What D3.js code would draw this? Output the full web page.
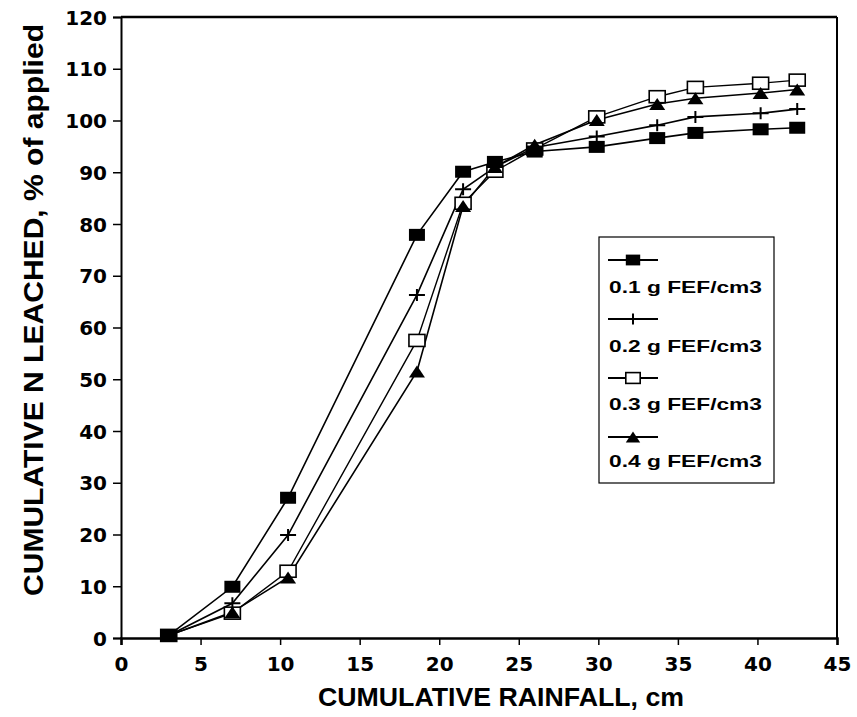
<!DOCTYPE html>
<html><head><meta charset="utf-8">
<script src="https://cdn.jsdelivr.net/npm/d3@7"></script>
<style>body{margin:0;background:#fff}svg{display:block}</style>
</head><body>
<svg id="c" width="857" height="717"></svg>
<script>
const rainfall = [3.0, 7.0, 10.5, 18.6, 21.5, 23.5, 26.0, 29.9, 33.7, 36.1, 40.2, 42.5];
const fef01 = [0.5, 9.9, 27.1, 77.9, 90.1, 92.0, 94.0, 94.9, 96.6, 97.6, 98.3, 98.6];
const fef02 = [0.5, 6.7, 19.9, 66.3, 86.7, 91.0, 94.8, 96.9, 99.1, 100.7, 101.4, 102.2];
const fef03 = [0.5, 4.8, 12.9, 57.5, 84.0, 90.2, 94.5, 100.7, 104.6, 106.4, 107.2, 107.8];
const fef04 = [0.5, 5.0, 11.7, 51.5, 83.5, 91.0, 95.3, 100.1, 103.2, 104.3, 105.3, 106.0];
const seriesNames = ["0.1 g FEF/cm3", "0.2 g FEF/cm3", "0.3 g FEF/cm3", "0.4 g FEF/cm3"];
const xTicks = [0, 5, 10, 15, 20, 25, 30, 35, 40, 45];
const yTicks = [0, 10, 20, 30, 40, 50, 60, 70, 80, 90, 100, 110, 120];
const xTitle = "CUMULATIVE RAINFALL, cm";
const yTitle = "CUMULATIVE N LEACHED, % of applied";

const svg = d3.select("#c");
const L = 121, R = 837, T = 17, B = 638;
const x = d3.scaleLinear().domain([0, 45]).range([L, R]);
const y = d3.scaleLinear().domain([0, 120]).range([B, T]);
const tickFont = "'DejaVu Sans', sans-serif";
const titleFont = "'Liberation Sans', Arial, sans-serif";

// axes
const xAxis = svg.append("g").attr("transform", `translate(0,${B})`)
  .call(d3.axisBottom(x).tickValues(xTicks).tickSize(7).tickPadding(6).tickFormat(d3.format("d")));
xAxis.select(".domain").attr("stroke-width", 2.5);
xAxis.selectAll(".tick line").attr("stroke-width", 1.5);
xAxis.selectAll("text").attr("font-family", tickFont).attr("font-weight", "bold")
  .attr("font-size", 20).attr("fill", "#000").attr("dy", "1em");

const yAxis = svg.append("g").attr("transform", `translate(${L},0)`)
  .call(d3.axisLeft(y).tickValues(yTicks).tickSize(8).tickPadding(6).tickFormat(d3.format("d")));
yAxis.select(".domain").attr("stroke-width", 2);
yAxis.selectAll(".tick line").attr("stroke-width", 1.5);
yAxis.selectAll("text").attr("font-family", tickFont).attr("font-weight", "bold")
  .attr("font-size", 20).attr("fill", "#000").attr("dy", "0.36em");

// top and right borders
svg.append("line").attr("x1", L).attr("x2", R).attr("y1", y(120)).attr("y2", y(120))
  .attr("stroke", "#000").attr("stroke-width", 2.5);
svg.append("line").attr("x1", x(45)).attr("x2", x(45)).attr("y1", T).attr("y2", B)
  .attr("stroke", "#000").attr("stroke-width", 2);

// titles
svg.append("text").attr("x", 501).attr("y", 706).attr("text-anchor", "middle")
  .attr("font-family", titleFont).attr("font-weight", "bold").attr("font-size", 26)
  .attr("textLength", 366).attr("lengthAdjust", "spacingAndGlyphs").text(xTitle);
svg.append("text").attr("transform", "translate(43,310) rotate(-90)").attr("text-anchor", "middle")
  .attr("font-family", titleFont).attr("font-weight", "bold").attr("font-size", 28)
  .attr("textLength", 572).attr("lengthAdjust", "spacingAndGlyphs").text(yTitle);

// marker drawing
function marker(g, type, cx, cy, s) {
  s = s || 1;
  if (type === 0) {
    g.append("rect").attr("x", cx - 8 * s).attr("y", cy - 6 * s).attr("width", 16 * s).attr("height", 12 * s).attr("fill", "#000");
  } else if (type === 1) {
    g.append("path").attr("d", `M${cx - 8 * s},${cy}H${cx + 8 * s}M${cx},${cy - 6 * s}V${cy + 6 * s}`)
      .attr("stroke", "#000").attr("stroke-width", 2).attr("fill", "none");
  } else if (type === 2) {
    g.append("rect").attr("x", cx - 8 * s).attr("y", cy - 6 * s).attr("width", 16 * s).attr("height", 12 * s)
      .attr("fill", "#fff").attr("stroke", "#000").attr("stroke-width", 1.6);
  } else {
    g.append("path").attr("d", `M${cx - 8 * s},${cy + 6 * s}L${cx},${cy - 6 * s}L${cx + 8 * s},${cy + 6 * s}Z`).attr("fill", "#000");
  }
}

const series = [fef01, fef02, fef03, fef04];
const line = d3.line().x(d => x(d[0])).y(d => y(d[1]));
const plot = svg.append("g");
const widths = [1.6, 1.6, 1.4, 1.6];
series.forEach((vals, i) => {
  plot.append("path").datum(rainfall.map((r, j) => [r, vals[j]]))
    .attr("d", line).attr("fill", "none").attr("stroke", "#000").attr("stroke-width", widths[i]);
});
const order = [2, 3, 1, 0];
order.forEach(i => {
  const g = plot.append("g");
  rainfall.forEach((r, j) => marker(g, i, x(r), y(series[i][j])));
});

// legend
const lg = svg.append("g");
lg.append("rect").attr("x", 599).attr("y", 237).attr("width", 175).attr("height", 246)
  .attr("fill", "#fff").attr("stroke", "#000").attr("stroke-width", 1.2);
const symY = [260, 319, 378, 437];
const txtY = [293, 352, 410, 467];
seriesNames.forEach((name, i) => {
  lg.append("line").attr("x1", 608).attr("x2", 658).attr("y1", symY[i]).attr("y2", symY[i])
    .attr("stroke", "#000").attr("stroke-width", 2);
  marker(lg, i, 633, symY[i], 0.9);
  lg.append("text").attr("x", 609).attr("y", txtY[i]).attr("font-family", titleFont)
    .attr("font-weight", "bold").attr("font-size", 17).attr("textLength", 153)
    .attr("lengthAdjust", "spacingAndGlyphs").text(name);
});
</script>
</body></html>
